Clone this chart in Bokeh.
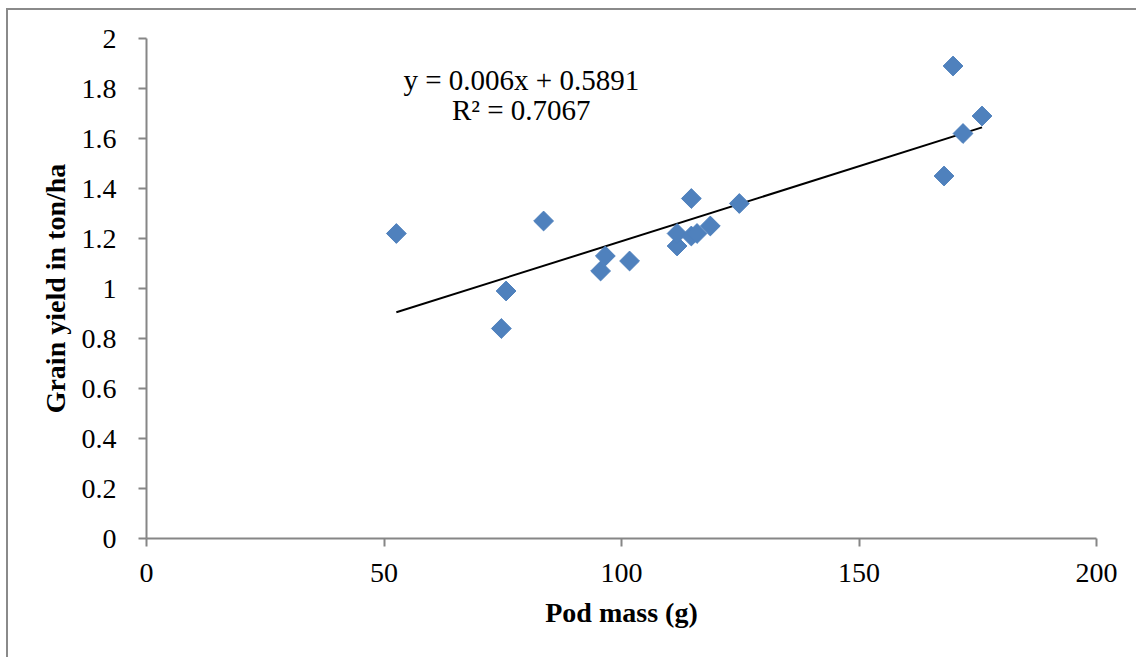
from math import pi
from bokeh.plotting import figure
from bokeh.models import Range1d, FixedTicker, Label
from bokeh.embed import file_html
from bokeh.resources import INLINE

# ---- data ----
pod_mass = [52.6, 74.7, 75.7, 83.6, 95.6, 96.6, 101.7, 111.7, 111.7,
            114.7, 114.7, 115.9, 118.7, 124.8, 167.9, 169.8, 171.9, 175.9]
grain_yield = [1.22, 0.84, 0.99, 1.27, 1.07, 1.13, 1.11, 1.17, 1.22,
               1.36, 1.21, 1.22, 1.25, 1.34, 1.45, 1.89, 1.62, 1.69]
slope = 0.006
intercept = 0.5891
r_squared = 0.7067

x_ticks = [0, 50, 100, 150, 200]
x_tick_labels = ["0", "50", "100", "150", "200"]
y_ticks = [0, 0.2, 0.4, 0.6, 0.8, 1.0, 1.2, 1.4, 1.6, 1.8, 2.0]
y_tick_labels = ["0", "0.2", "0.4", "0.6", "0.8", "1", "1.2", "1.4", "1.6", "1.8", "2"]

x_title = "Pod mass (g)"
y_title = "Grain yield in ton/ha"

FONT = "Liberation Serif"
MARKER = "#4F81BD"
AXIS = "#868686"

p = figure(width=1150, height=660, output_backend="svg", toolbar_location=None,
           x_range=Range1d(0, 200), y_range=Range1d(0, 2),
           min_border_left=138, min_border_right=62,
           min_border_top=28, min_border_bottom=132)
p.styles = {"position": "absolute", "left": "8px", "top": "10px",
            "box-shadow": "-2px -2px 0 0 #8a8a8a"}

p.outline_line_color = None
p.background_fill_color = "white"
p.border_fill_color = "white"
p.xgrid.visible = False
p.ygrid.visible = False

for ax in (p.xaxis[0], p.yaxis[0]):
    ax.axis_line_color = AXIS
    ax.axis_line_width = 2
    ax.major_tick_line_color = AXIS
    ax.major_tick_line_width = 2
    ax.major_tick_out = 8
    ax.major_tick_in = 0
    ax.minor_tick_line_color = None
    ax.major_label_text_font = FONT
    ax.major_label_text_font_size = "28px"
    ax.major_label_text_color = "black"
    ax.axis_label_text_font = FONT
    ax.axis_label_text_font_size = "28px"
    ax.axis_label_text_font_style = "bold"
    ax.axis_label_text_color = "black"

p.xaxis[0].ticker = FixedTicker(ticks=x_ticks)
p.xaxis[0].major_label_overrides = {t: l for t, l in zip(x_ticks, x_tick_labels)}
p.yaxis[0].ticker = FixedTicker(ticks=y_ticks)
p.yaxis[0].major_label_overrides = {t: l for t, l in zip(y_ticks, y_tick_labels)}
p.xaxis[0].axis_label = x_title
p.yaxis[0].axis_label = y_title
p.xaxis[0].major_label_standoff = 17
p.yaxis[0].major_label_standoff = 22
p.xaxis[0].axis_label_standoff = 12
p.yaxis[0].axis_label_standoff = 8

# trend line across data range
tx = [min(pod_mass), max(pod_mass)]
ty = [slope * v + intercept for v in tx]
p.line(tx, ty, line_color="black", line_width=2)

p.scatter(pod_mass, grain_yield, marker="square", angle=pi / 4, size=14,
          fill_color=MARKER, line_color=MARKER)

p.add_layout(Label(x=78.9, y=1.836, text=f"y = {slope}x + {intercept}",
                   text_font=FONT, text_font_size="29px", text_align="center",
                   text_baseline="middle", text_color="black"))
p.add_layout(Label(x=78.9, y=1.716, text=f"R² = {r_squared}",
                   text_font=FONT, text_font_size="29px", text_align="center",
                   text_baseline="middle", text_color="black"))

open("out.html", "w").write(file_html(p, INLINE))
